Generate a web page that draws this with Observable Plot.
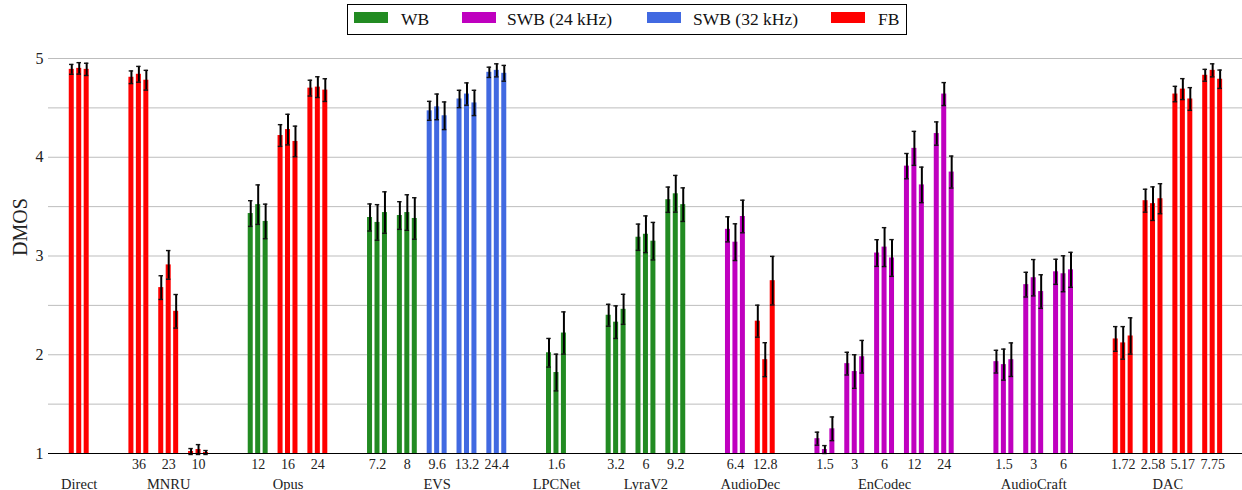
<!DOCTYPE html>
<html>
<head>
<meta charset="utf-8">
<script src="https://cdn.jsdelivr.net/npm/d3@7"></script>
<script src="https://cdn.jsdelivr.net/npm/@observablehq/plot@0.6"></script>
<style>
  html, body { margin: 0; padding: 0; background: white; }
  body { width: 1242px; height: 490px; overflow: hidden; font-family: "Liberation Serif", serif; }
  #legend { position: relative; height: 40px; }
  #legend .box { position: absolute; left: 347px; top: 4px; width: 558px; height: 29px; border: 1px solid #000; box-sizing: content-box; }
  #legend .sw { position: absolute; top: 7px; width: 34px; height: 11px; }
  #legend .tx { position: absolute; top: 0; line-height: 29px; font-size: 17.5px; white-space: nowrap; color: #111; }
  #chart svg { display: block; }
</style>
</head>
<body>
<div id="legend"></div>
<div id="chart"></div>
<script>
// ---- data ----
const bandNames = ["WB", "SWB (24 kHz)", "SWB (32 kHz)", "FB"];
const bandColors = ["#228b22", "#bf00bf", "#4169e1", "#ff0000"];

const condGroup = ["Direct",
  "MNRU", "MNRU", "MNRU",
  "Opus", "Opus", "Opus",
  "EVS", "EVS", "EVS", "EVS", "EVS",
  "LPCNet",
  "LyraV2", "LyraV2", "LyraV2",
  "AudioDec", "AudioDec",
  "EnCodec", "EnCodec", "EnCodec", "EnCodec", "EnCodec",
  "AudioCraft", "AudioCraft", "AudioCraft",
  "DAC", "DAC", "DAC", "DAC"];
const condLabel = ["",
  "36", "23", "10",
  "12", "16", "24",
  "7.2", "8", "9.6", "13.2", "24.4",
  "1.6",
  "3.2", "6", "9.2",
  "6.4", "12.8",
  "1.5", "3", "6", "12", "24",
  "1.5", "3", "6",
  "1.72", "2.58", "5.17", "7.75"];
const condBand = ["FB",
  "FB", "FB", "FB",
  "WB", "FB", "FB",
  "WB", "WB", "SWB (32 kHz)", "SWB (32 kHz)", "SWB (32 kHz)",
  "WB",
  "WB", "WB", "WB",
  "SWB (24 kHz)", "FB",
  "SWB (24 kHz)", "SWB (24 kHz)", "SWB (24 kHz)", "SWB (24 kHz)", "SWB (24 kHz)",
  "SWB (24 kHz)", "SWB (24 kHz)", "SWB (24 kHz)",
  "FB", "FB", "FB", "FB"];

// three bars per condition: mean DMOS and confidence half-width
const mean1 = [4.89, 4.81, 2.68, 1.02, 3.43, 4.22, 4.70, 3.39, 3.41, 4.47, 4.59, 4.86, 2.02, 2.40, 3.19, 3.57, 3.27, 2.34, 1.15, 1.91, 3.03, 3.91, 4.24, 1.93, 2.71, 2.84, 2.16, 3.56, 4.64, 4.83];
const mean2 = [4.90, 4.84, 2.91, 1.04, 3.52, 4.28, 4.71, 3.34, 3.44, 4.51, 4.64, 4.88, 1.82, 2.33, 3.22, 3.63, 3.14, 1.95, 1.04, 1.83, 3.09, 4.09, 4.64, 1.90, 2.78, 2.82, 2.12, 3.53, 4.69, 4.88];
const mean3 = [4.89, 4.78, 2.44, 1.01, 3.35, 4.16, 4.68, 3.44, 3.38, 4.42, 4.55, 4.85, 2.22, 2.46, 3.15, 3.52, 3.40, 2.75, 1.25, 1.98, 2.98, 3.72, 3.85, 1.95, 2.64, 2.86, 2.19, 3.58, 4.59, 4.79];
const ci1 = [0.050, 0.064, 0.120, 0.030, 0.130, 0.110, 0.080, 0.137, 0.140, 0.096, 0.088, 0.052, 0.145, 0.111, 0.133, 0.128, 0.127, 0.162, 0.066, 0.115, 0.135, 0.128, 0.118, 0.115, 0.125, 0.127, 0.125, 0.116, 0.078, 0.060];
const ci2 = [0.058, 0.080, 0.145, 0.050, 0.200, 0.155, 0.105, 0.180, 0.180, 0.130, 0.113, 0.066, 0.186, 0.165, 0.186, 0.186, 0.186, 0.172, 0.040, 0.170, 0.197, 0.172, 0.116, 0.157, 0.184, 0.182, 0.165, 0.170, 0.106, 0.066];
const ci3 = [0.062, 0.100, 0.170, 0.020, 0.175, 0.155, 0.115, 0.210, 0.210, 0.140, 0.128, 0.080, 0.214, 0.152, 0.190, 0.170, 0.165, 0.246, 0.120, 0.165, 0.186, 0.180, 0.162, 0.170, 0.170, 0.177, 0.184, 0.152, 0.115, 0.093];

const yTicks = [1, 2, 3, 4, 5];
const yGrid = [1, 1.5, 2, 2.5, 3, 3.5, 4, 4.5, 5];

// ---- build table ----
const slots = [];
let s = 0;
condGroup.forEach((g, i) => {
  if (i > 0 && g !== condGroup[i - 1]) s += 1; // empty slot between groups
  slots.push(s);
  s += 1;
});
const step = 0.25, halfW = 0.084, capW = 0.075;
const means = [mean1, mean2, mean3], cis = [ci1, ci2, ci3];
const bars = [];
condGroup.forEach((g, i) => {
  for (let k = 0; k < 3; k++) {
    const xc = slots[i] + (k - 1) * step;
    bars.push({xc, x1: xc - halfW, x2: xc + halfW, m: means[k][i], lo: means[k][i] - cis[k][i], hi: means[k][i] + cis[k][i], band: condBand[i]});
  }
});
const caps = bars.flatMap(b => [{x1: b.xc - capW, x2: b.xc + capW, y: b.lo}, {x1: b.xc - capW, x2: b.xc + capW, y: b.hi}]);
const condTicks = condLabel.map((l, i) => ({x: slots[i], label: l})).filter(d => d.label !== "");
const groupNames = Array.from(new Set(condGroup));
const groupLabels = groupNames.map(g => ({name: g, x: d3.mean(slots.filter((_, i) => condGroup[i] === g))}));

// ---- legend ----
const swLeft = [6, 114, 299, 483];
const txLeft = [53, 159, 345, 530];
const box = document.createElement("div");
box.className = "box";
bandNames.forEach((n, i) => {
  const sw = document.createElement("span");
  sw.className = "sw";
  sw.style.background = bandColors[i];
  sw.style.left = swLeft[i] + "px";
  const tx = document.createElement("span");
  tx.className = "tx";
  tx.textContent = n;
  tx.style.left = txLeft[i] + "px";
  box.appendChild(sw); box.appendChild(tx);
});
document.getElementById("legend").appendChild(box);

// ---- chart ----
const chart = Plot.plot({
  width: 1242,
  height: 450,
  marginTop: 18,
  marginBottom: 37,
  marginLeft: 48,
  marginRight: 0,
  style: {fontFamily: "Liberation Serif, serif", fontSize: "14px", background: "white", overflow: "visible"},
  x: {domain: [-1.03, 39.0], axis: null},
  y: {domain: [1, 5], axis: null},
  color: {domain: bandNames, range: bandColors},
  marks: [
    Plot.ruleY(yGrid, {stroke: "#bdbdbd", strokeWidth: 1}),
    Plot.rectY(bars, {x1: "x1", x2: "x2", y1: 1, y2: "m", fill: "band"}),
    Plot.ruleX(bars, {x: "xc", y1: "lo", y2: "hi", stroke: "#000", strokeWidth: 2}),
    Plot.ruleY(caps, {x1: "x1", x2: "x2", y: "y", stroke: "#111", strokeWidth: 1.4}),
    Plot.ruleY([1], {stroke: "#000", strokeWidth: 1.2}),
    Plot.text(yTicks, {x: -1.03, y: d => d, text: d => String(d), textAnchor: "end", dx: -5, fontSize: 16, fill: "#222"}),
    Plot.text(condTicks, {x: "x", y: 1, text: "label", dy: 11, fontSize: 14, fill: "#222"}),
    Plot.text(groupLabels, {x: "x", y: 1, text: "name", dy: 31, fontSize: 14.5, fill: "#222"}),
    Plot.text(["DMOS"], {frameAnchor: "left", rotate: -90, dx: -28, text: d => d, fontSize: 20, fill: "#222"})
  ]
});
document.getElementById("chart").appendChild(chart);
</script>
</body>
</html>
